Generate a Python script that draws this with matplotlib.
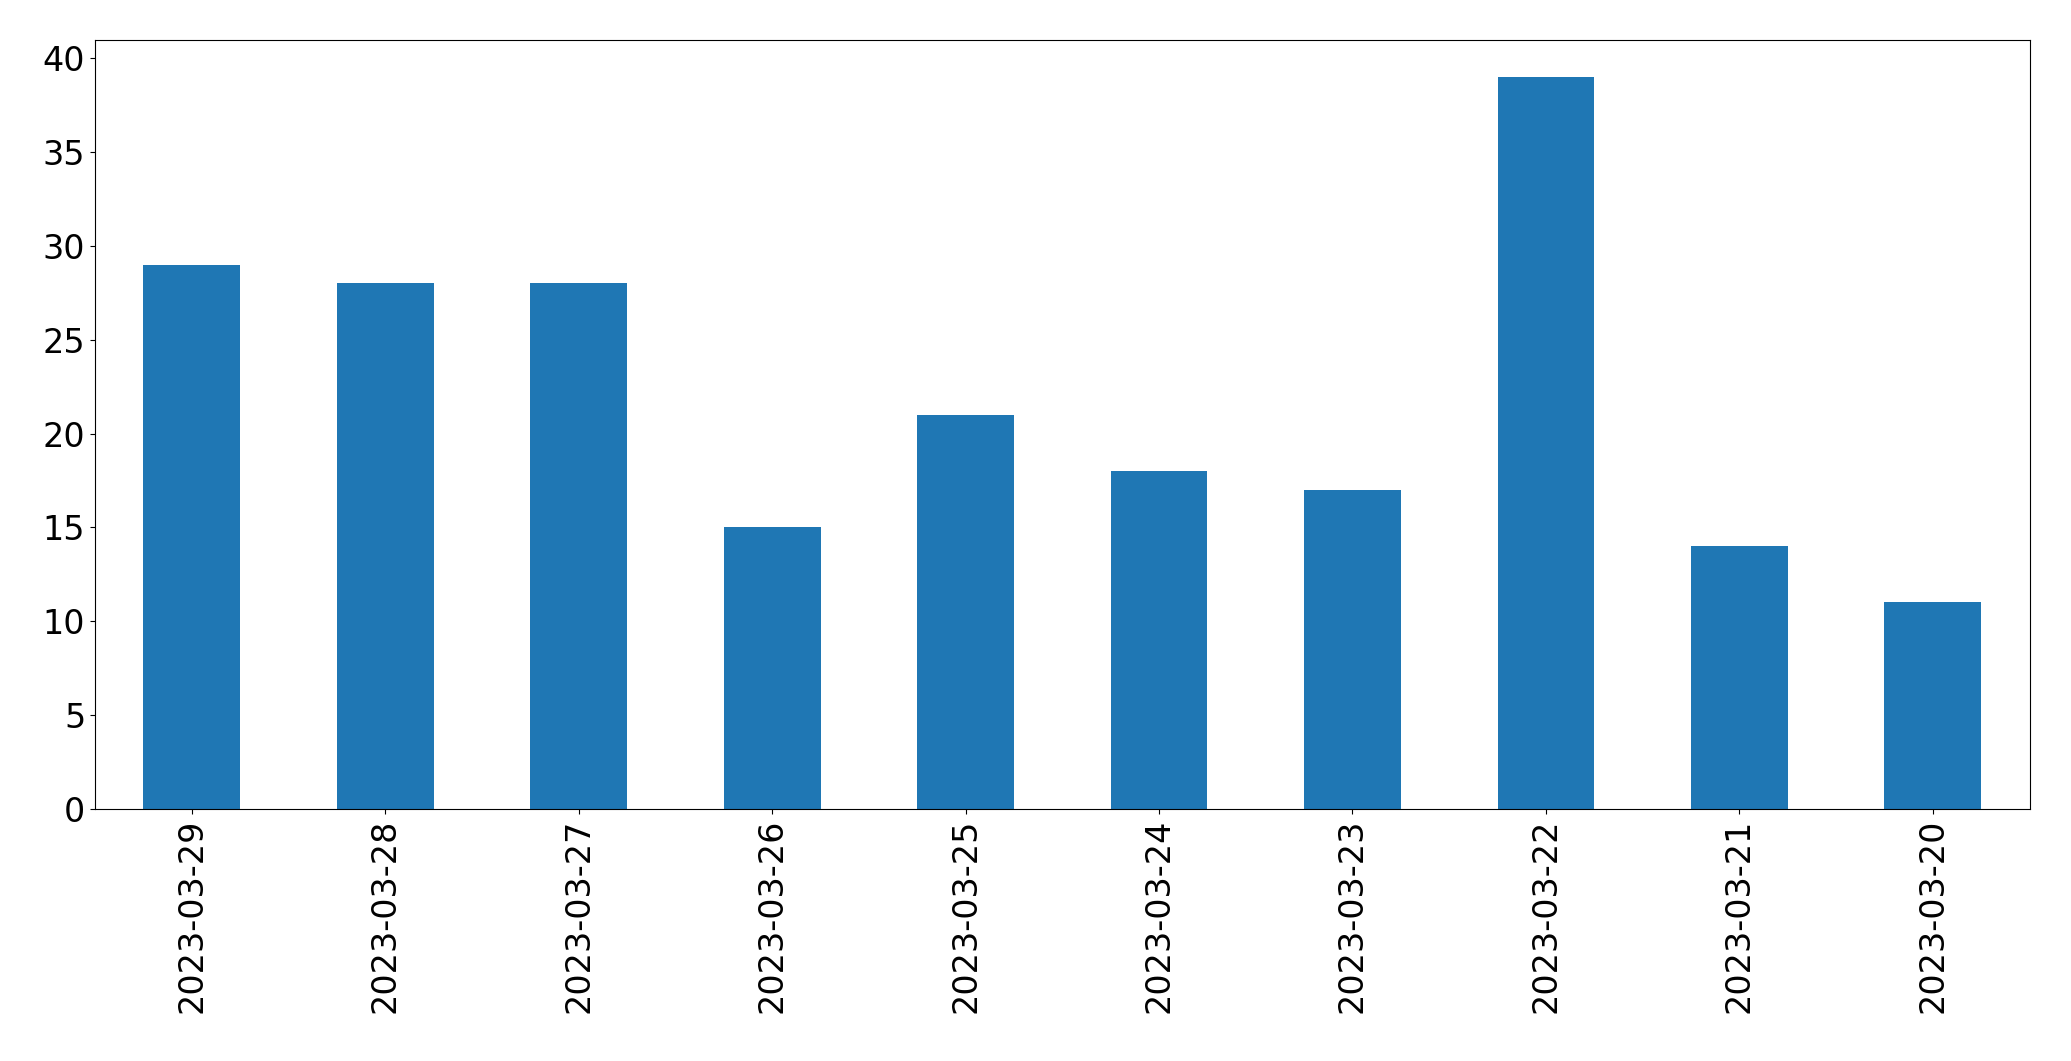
import matplotlib
matplotlib.use("Agg")
import matplotlib.pyplot as plt

dates = ["2023-03-29","2023-03-28","2023-03-27","2023-03-26","2023-03-25",
         "2023-03-24","2023-03-23","2023-03-22","2023-03-21","2023-03-20"]
counts = [29, 28, 28, 15, 21, 18, 17, 39, 14, 11]

fig = plt.figure(figsize=(20.71, 10.61), dpi=100)
ax = fig.add_axes([0.0459, 0.2379, 0.9341, 0.7247])
x = range(len(dates))
ax.bar(x, counts, width=0.5, color="#1f77b4")
ax.set_xticks(list(x))
ax.set_xticklabels(dates, rotation=90, fontsize=24)
ax.tick_params(axis="y", labelsize=24)
ax.set_xlim(-0.5, len(dates) - 0.5)
ax.set_ylim(0, 41)
fig.savefig("out.png", dpi=100)
